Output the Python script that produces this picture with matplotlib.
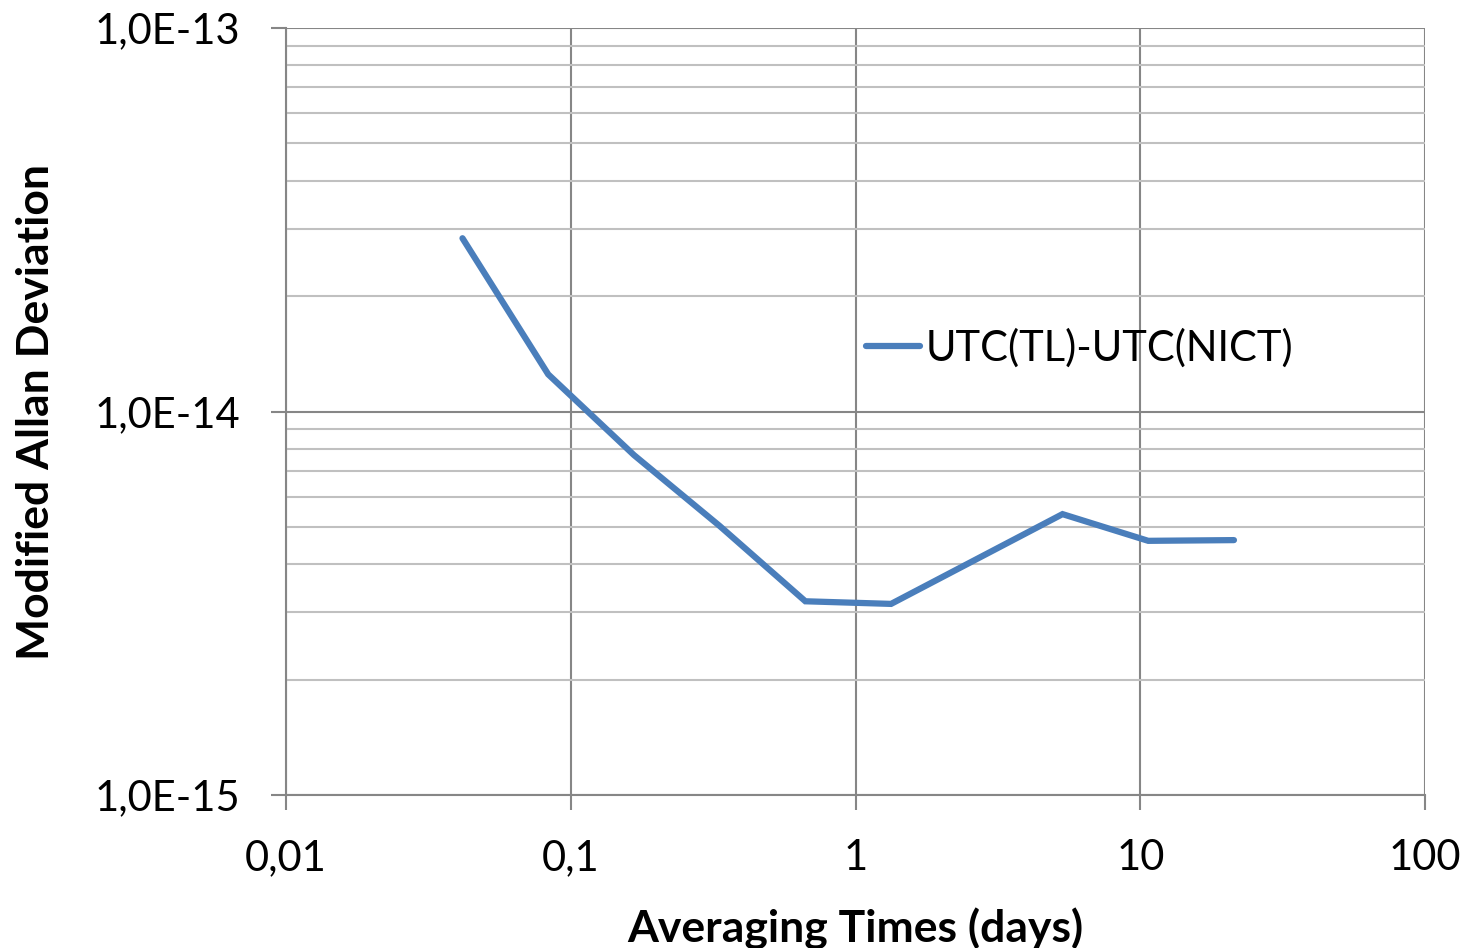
import matplotlib
matplotlib.use("Agg")
import matplotlib.pyplot as plt
from matplotlib.ticker import FixedLocator, FixedFormatter, LogLocator, NullFormatter

tau_days = [1/24, 1/12, 1/6, 1/3, 2/3, 4/3, 16/3, 32/3, 64/3]
mdev = [2.83e-14, 1.25e-14, 7.7e-15, 5.03e-15, 3.2e-15, 3.15e-15, 5.4e-15, 4.6e-15, 4.62e-15]
series_label = "UTC(TL)-UTC(NICT)"
x_ticks = [0.01, 0.1, 1, 10, 100]
x_tick_labels = ["0,01", "0,1", "1", "10", "100"]
y_ticks = [1e-15, 1e-14, 1e-13]
y_tick_labels = ["1,0E-15", "1,0E-14", "1,0E-13"]

plt.rcParams['font.family'] = ['Lato', 'DejaVu Sans']

fig = plt.figure(figsize=(14.72, 9.48), dpi=100)
ax = fig.add_axes([286/1472, 1-795/948, (1425-286)/1472, (795-28)/948])

ax.plot(tau_days, mdev, color='#4a7ebb', lw=4.5, solid_capstyle='round',
        solid_joinstyle='miter', label=series_label, zorder=3)

ax.set_xscale('log')
ax.set_yscale('log')
ax.set_xlim(0.01, 100)
ax.set_ylim(1e-15, 1e-13)

ax.xaxis.set_major_locator(FixedLocator(x_ticks))
ax.xaxis.set_major_formatter(FixedFormatter(x_tick_labels))
ax.xaxis.set_minor_locator(FixedLocator([]))
ax.yaxis.set_major_locator(FixedLocator(y_ticks))
ax.yaxis.set_major_formatter(FixedFormatter(y_tick_labels))
ax.yaxis.set_minor_locator(LogLocator(base=10, subs=range(2, 10)))
ax.yaxis.set_minor_formatter(NullFormatter())

ax.grid(True, which='major', axis='both', color='#868686', lw=1.5)
ax.grid(True, which='minor', axis='y', color='#c0c0c0', lw=1.5)
ax.set_axisbelow(True)

for s in ['top', 'right']:
    ax.spines[s].set_visible(False)
for s in ['left', 'bottom']:
    ax.spines[s].set_color('#868686')
    ax.spines[s].set_linewidth(1.5)

ax.tick_params(axis='both', which='major', direction='out', length=11, width=1.5,
               color='#868686', labelsize=30, labelcolor='black')
ax.tick_params(axis='x', which='major', pad=21)
ax.tick_params(axis='y', which='major', pad=22)
ax.tick_params(axis='y', which='minor', length=0)

ax.set_xlabel("Averaging Times (days)", fontsize=32, fontweight='bold', labelpad=22)
ax.set_ylabel("Modified Allan Deviation", fontsize=32, fontweight='bold', labelpad=28)

leg = ax.legend(loc='center left', bbox_to_anchor=((866-286)/1139, 1-(348-28)/767),
                frameon=False, fontsize=30, handlelength=1.3, handletextpad=0.12,
                borderaxespad=0, borderpad=0)

fig.savefig("out.png", dpi=100)
